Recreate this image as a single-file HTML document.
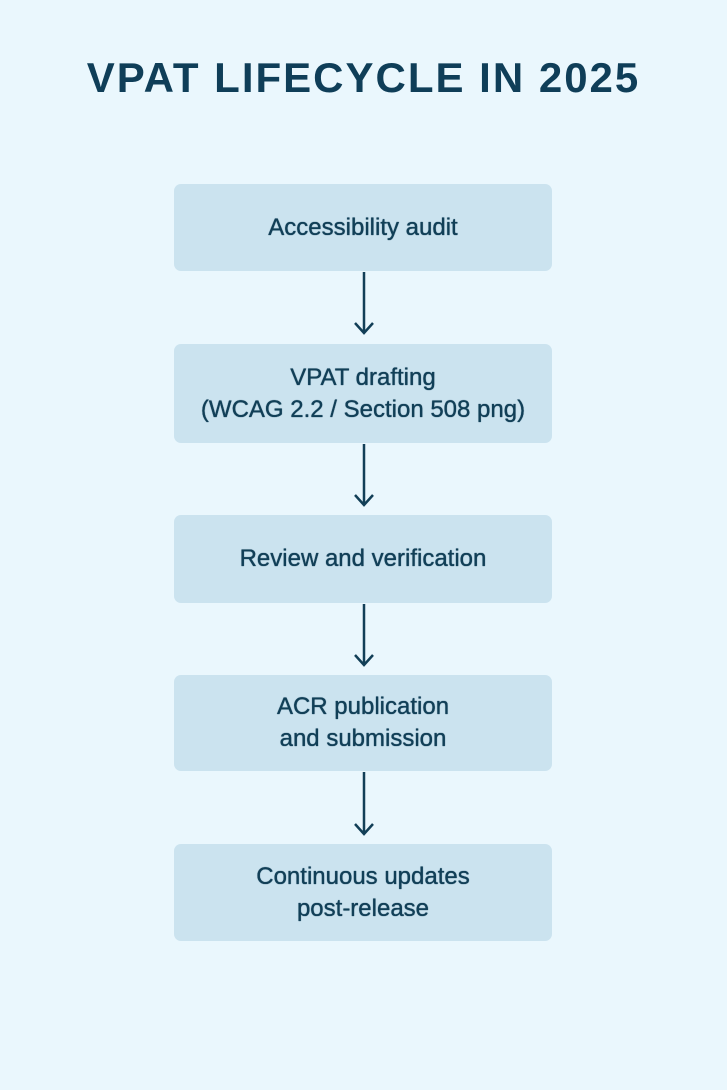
<!DOCTYPE html>
<html><head><style>
body{margin:0;width:727px;height:1090px;background:#eaf7fd;font-family:"Liberation Sans",sans-serif;position:relative;overflow:hidden}
h1{position:absolute;top:54px;left:0;width:727px;text-align:center;margin:0;font-size:42px;font-weight:bold;color:#0f3e58;letter-spacing:2px}
.b{position:absolute;left:174px;width:378px;background:#cbe3ef;border-radius:7px;display:flex;align-items:center;justify-content:center;text-align:center;color:#113f57;font-size:24px;line-height:32px;text-shadow:0 0 0.6px #113f57,0 0 0.6px #113f57}
</style></head><body>
<h1>VPAT LIFECYCLE IN 2025</h1>
<div class="b" style="top:184px;height:87px">Accessibility audit</div>
<div class="b" style="top:344px;height:99px">VPAT drafting<br>(WCAG 2.2 / Section 508 png)</div>
<div class="b" style="top:515px;height:88px">Review and verification</div>
<div class="b" style="top:675px;height:96px">ACR publication<br>and submission</div>
<div class="b" style="top:844px;height:97px">Continuous updates<br>post-release</div>
<svg width="727" height="1090" style="position:absolute;left:0;top:0" fill="none" stroke="#123f57" stroke-width="2.5">
<path d="M364 272V333M355 323l9 10 9-10"/>
<path d="M364 444V505M355 495l9 10 9-10"/>
<path d="M364 604V665M355 655l9 10 9-10"/>
<path d="M364 772V834M355 824l9 10 9-10"/>
</svg>
</body></html>
